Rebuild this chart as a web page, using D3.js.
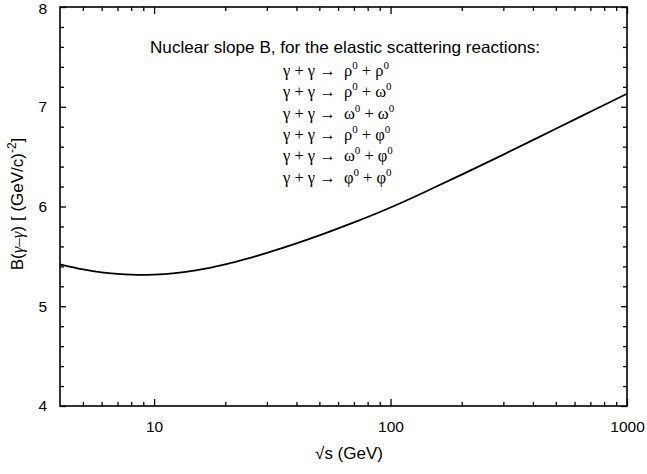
<!DOCTYPE html>
<html><head><meta charset="utf-8">
<script src="https://cdn.jsdelivr.net/npm/d3@7"></script>
<style>
body{margin:0;background:#fff;}
svg{display:block;}
text{font-family:"Liberation Sans",Arial,Helvetica,sans-serif;fill:#000;}
.serif{font-family:"Liberation Serif","Times New Roman",serif;}
</style></head><body>
<svg id="c" width="647" height="474"></svg>
<script>
// Data
const sqrtS = [4,5,6,7,8,9,10,12,15,20,25,30,40,50,70,100,150,200,300,500,700,1000];
const slopeB = [5.42,5.37,5.34,5.325,5.317,5.315,5.318,5.33,5.36,5.42,5.48,5.535,5.63,5.71,5.84,5.99,6.18,6.32,6.52,6.78,6.95,7.13];
const xMajorTicks = [10,100,1000];
const xMinorTicks = [5,6,7,8,9,20,30,40,50,60,70,80,90,200,300,400,500,600,700,800,900];
const yMajorTicks = [4,5,6,7,8];
const yMinorTicks = [4.2,4.4,4.6,4.8,5.2,5.4,5.6,5.8,6.2,6.4,6.6,6.8,7.2,7.4,7.6,7.8];
const titleText = "Nuclear slope B, for the elastic scattering reactions:";
const reactions = [["ρ","ρ"],["ρ","ω"],["ω","ω"],["ρ","φ"],["ω","φ"],["φ","φ"]];

const svg = d3.select("#c");
const L=60, R=627, T=7, B=406;
const x = d3.scaleLog().domain([4,1000]).range([L,R]);
const y = d3.scaleLinear().domain([4,8]).range([B,T]);

function axisGroup(axis, tf){
  const g = svg.append("g").attr("transform",tf).call(axis);
  g.select(".domain").remove();
  g.selectAll("line").attr("stroke","#000").attr("stroke-width",1.3);
  return g;
}
// bottom
axisGroup(d3.axisBottom(x).tickValues(xMajorTicks).tickSize(-7).tickPadding(15).tickFormat(d3.format("d")), `translate(0,${B})`)
  .selectAll("text").attr("font-size",15.5);
axisGroup(d3.axisBottom(x).tickValues(xMinorTicks).tickSize(-4).tickFormat(""), `translate(0,${B})`);
// top
axisGroup(d3.axisTop(x).tickValues(xMajorTicks).tickSize(-7).tickFormat(""), `translate(0,${T})`);
axisGroup(d3.axisTop(x).tickValues(xMinorTicks).tickSize(-4).tickFormat(""), `translate(0,${T})`);
// left
const ly = axisGroup(d3.axisLeft(y).tickValues(yMajorTicks).tickSize(-6).tickPadding(13).tickFormat(d3.format("d")), `translate(${L},0)`);
ly.selectAll("text").attr("font-size",15.5).attr("dy", d => d===8 ? "0.45em" : "0.32em");
axisGroup(d3.axisLeft(y).tickValues(yMinorTicks).tickSize(-4).tickFormat(""), `translate(${L},0)`);
// right
axisGroup(d3.axisRight(y).tickValues(yMajorTicks).tickSize(-6).tickFormat(""), `translate(${R},0)`);
axisGroup(d3.axisRight(y).tickValues(yMinorTicks).tickSize(-4).tickFormat(""), `translate(${R},0)`);

// frame
svg.append("rect").attr("x",L).attr("y",T).attr("width",R-L).attr("height",B-T)
  .attr("fill","none").attr("stroke","#000").attr("stroke-width",1.6);

// curve
const pts = sqrtS.map((s,i)=>[s,slopeB[i]]);
svg.append("path").datum(pts)
  .attr("d", d3.line().x(d=>x(d[0])).y(d=>y(d[1])).curve(d3.curveMonotoneX))
  .attr("fill","none").attr("stroke","#000").attr("stroke-width",1.8);

// annotation
svg.append("text").attr("x",345).attr("y",53).attr("text-anchor","middle").attr("font-size",16.5)
  .attr("textLength",390).attr("lengthAdjust","spacingAndGlyphs").text(titleText);
reactions.forEach((r,i)=>{
  const t = svg.append("text").attr("class","serif").attr("x",283).attr("y",76+i*21.3).attr("font-size",16.5);
  t.append("tspan").text("γ + γ → ");
  t.append("tspan").attr("dx",4).text(r[0]);
  t.append("tspan").attr("dy",-7).attr("font-size",11).text("0");
  t.append("tspan").attr("dy",7).text(" + " + r[1]);
  t.append("tspan").attr("dy",-7).attr("font-size",11).text("0");
});

// axis titles
const xt = svg.append("text").attr("x",349).attr("y",459).attr("text-anchor","middle").attr("font-size",17);
xt.append("tspan").text("√s  (GeV)");
const yt = svg.append("text").attr("transform","translate(23,204) rotate(-90)").attr("text-anchor","middle").attr("font-size",17);
yt.append("tspan").text("B(");
yt.append("tspan").attr("class","serif").attr("font-style","italic").text("γ–γ");
yt.append("tspan").text(")  [ (GeV/c)");
yt.append("tspan").attr("dy",-7).attr("font-size",12).text("-2");
yt.append("tspan").attr("dy",7).text("]");
</script></body></html>
